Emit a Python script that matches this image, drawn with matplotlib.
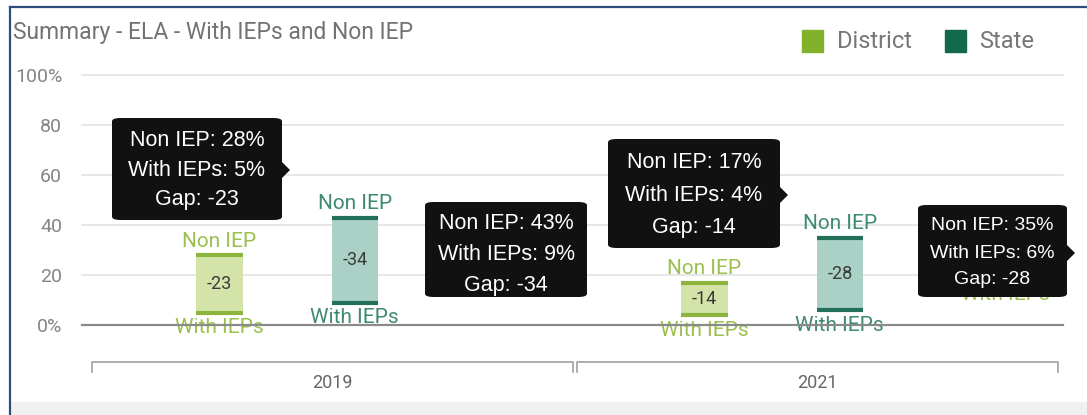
import matplotlib
matplotlib.use("Agg")
import matplotlib.pyplot as plt
from matplotlib.patches import FancyBboxPatch, Polygon, Rectangle
from matplotlib.lines import Line2D
from matplotlib.transforms import blended_transform_factory

# ---- data ----
years = ["2019", "2021"]
district_non_iep = [28, 17]
district_with_iep = [5, 4]
district_gap = [-23, -14]
state_non_iep = [43, 35]
state_with_iep = [9, 6]
state_gap = [-34, -28]
y_ticks = [0, 20, 40, 60, 80, 100]
y_tick_labels = ["0%", "20", "40", "60", "80", "100%"]

W, H = 1087, 415
fig = plt.figure(figsize=(W / 100, H / 100), dpi=100)
fig.patch.set_facecolor("white")

def fx(x):
    return x / W

def fy(y):
    return 1 - y / H

UI = ["Roboto", "DejaVu Sans"]
TIP = ["Liberation Sans", "DejaVu Sans"]

ax = fig.add_axes([fx(90), fy(325), (1060 - 90) / W, (325 - 75) / H])
ax.set_xlim(-0.5, 1.5)
ax.set_ylim(0, 100)
for s in ax.spines.values():
    s.set_visible(False)
ax.set_xticks([])
ax.set_yticks(y_ticks, y_tick_labels)
ax.tick_params(axis="y", length=0, pad=20, labelsize=14, labelcolor="#858585")
for lab in ax.get_yticklabels():
    lab.set_family(UI)
for t in y_ticks[1:]:
    ax.axhline(t, xmin=-0.008, xmax=1.003, color="#e3e3e3", lw=1.2, clip_on=False, zorder=0)
ax.axhline(0, xmin=-0.008, xmax=1.003, color="#8a8a8a", lw=1.6, clip_on=False, zorder=5)

# floating gap bars: With IEPs -> Non IEP
bw = 0.095
series = {
    "District": dict(non=district_non_iep, iep=district_with_iep, gap=district_gap, off=-0.233,
                     fill="#d4e4a9", line="#8db43d", text="#9cc04f", key="#82b22c"),
    "State": dict(non=state_non_iep, iep=state_with_iep, gap=state_gap, off=0.046,
                  fill="#abd0c6", line="#22705a", text="#3f8a73", key="#12684b"),
}
for name, s in series.items():
    for i in range(len(years)):
        x = i + s["off"]
        top, bot = s["non"][i], s["iep"][i]
        ax.bar(x, top - bot, bottom=bot, width=bw, color=s["fill"], zorder=2)
        ax.hlines([top, bot], x - bw / 2, x + bw / 2, color=s["line"], lw=3, zorder=3)
        ax.annotate("Non IEP", (x, top), xytext=(0, 3), textcoords="offset points",
                    ha="center", va="bottom", fontsize=15, color=s["text"], family=UI)
        ax.annotate("With IEPs", (x, bot), xytext=(0, -4), textcoords="offset points",
                    ha="center", va="top", fontsize=15, color=s["text"], family=UI, zorder=4)
        ax.text(x, (top + bot) / 2, str(s["gap"][i]), ha="center", va="center",
                fontsize=13, color="#3a3a3a", family=UI, zorder=4)

# category bracket under the plot
tr = blended_transform_factory(ax.transData, ax.transAxes)
for i, yr in enumerate(years):
    x0, x1 = i - 0.495, i + 0.495
    ax.add_line(Line2D([x0, x0, x1, x1], [-0.188, -0.148, -0.148, -0.188], transform=tr,
                       color="#a0a0a0", lw=1.2, clip_on=False))
    ax.text(i, -0.232, yr, transform=tr, ha="center", va="center", fontsize=13,
            color="#666666", family=UI)

# title and legend
fig.text(fx(13), fy(32), "Summary - ELA - With IEPs and Non IEP", ha="left", va="center",
         fontsize=16.5, color="#737373", family=UI)
for name, xs, xt in [("District", 802, 837), ("State", 945, 979)]:
    fig.patches.append(Rectangle((fx(xs), fy(52)), 21 / W, 22 / H, transform=fig.transFigure,
                                 color=series[name]["key"], zorder=3))
    fig.text(fx(xt), fy(42), name, ha="left", va="center", fontsize=17, color="#777777", family=UI)

# ghost label peeking out under the right tooltip
fig.text(fx(1005), fy(295), "With IEPs", ha="center", va="center", fontsize=15,
         color=series["District"]["text"], family=UI, zorder=5)

# hover tooltips: (series, year index, box left, top, right, bottom, pointer y, line ys, font size)
tooltips = [
    ("District", 0, 112, 118, 282, 220, 170, (140, 170, 199), 15.5),
    ("State", 0, 425, 202, 587, 297, None, (223, 254, 285), 15.5),
    ("District", 1, 608, 139, 780, 248, 195, (162, 195, 227), 15.5),
    ("State", 1, 918, 205, 1067, 297, 253, (225, 253, 280), 14),
]
for name, i, l, t, r, b, py, ys, fs in tooltips:
    s = series[name]
    box = FancyBboxPatch((fx(l), fy(b)), (r - l) / W, (b - t) / H,
                         boxstyle="round,pad=0,rounding_size=0.008", transform=fig.transFigure,
                         facecolor="#111111", edgecolor="none", zorder=10)
    fig.patches.append(box)
    if py is not None:
        fig.patches.append(Polygon([(fx(r), fy(py - 8)), (fx(r + 8), fy(py)), (fx(r), fy(py + 8))],
                                   closed=True, transform=fig.transFigure, facecolor="#111111",
                                   edgecolor="none", zorder=10))
    lines = [f"Non IEP: {s['non'][i]}%", f"With IEPs: {s['iep'][i]}%", f"Gap: {s['gap'][i]}"]
    cx = (l + r) / 2
    for txt, yy in zip(lines, ys):
        fig.text(fx(cx), fy(yy), txt, ha="center", va="center", fontsize=fs, color="white",
                 family=TIP, zorder=11)

# screenshot frame
fig.add_artist(Line2D([fx(10), fx(1087)], [fy(7), fy(7)], transform=fig.transFigure,
                      color="#2d4e7a", lw=1.6))
fig.add_artist(Line2D([fx(10), fx(10)], [fy(7), fy(415)], transform=fig.transFigure,
                      color="#2d4e7a", lw=1.6))
fig.patches.append(Rectangle((fx(11), 0), (W - 11) / W, 13 / H, transform=fig.transFigure,
                             color="#f0f0f0", zorder=1))

fig.savefig("out.png", dpi=100)
